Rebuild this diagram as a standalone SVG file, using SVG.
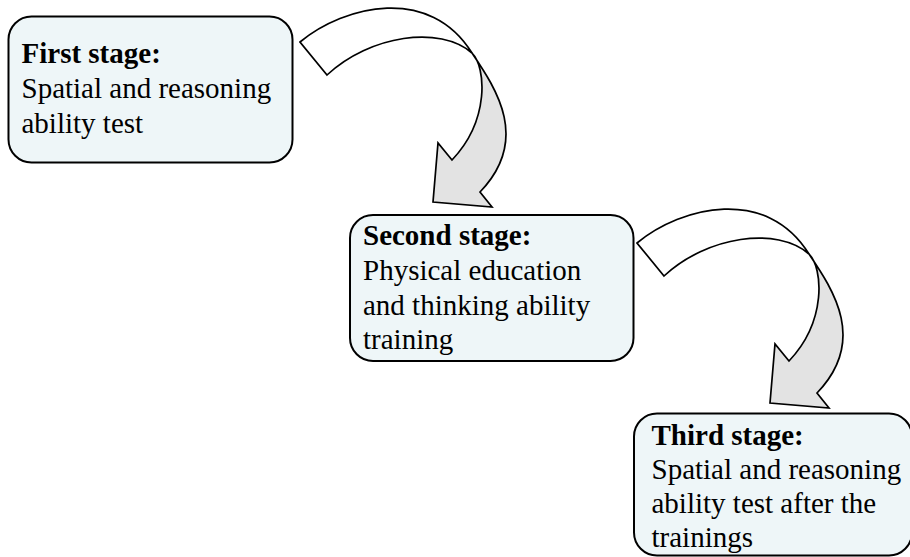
<svg xmlns="http://www.w3.org/2000/svg" width="910" height="557" viewBox="0 0 910 557">
<style>
.box{fill:#eef6f8;stroke:#000;stroke-width:2}
.t{font-family:"Liberation Serif","Times New Roman",serif;font-size:29px;fill:#000}
.b{font-weight:bold}
.back{fill:#ffffff;stroke:#000;stroke-width:1.7;stroke-linejoin:miter}
.front{fill:#e3e3e3;stroke:#000;stroke-width:1.7;stroke-linejoin:miter}
</style>
<defs>
<g id="curvedArrow">
<path class="back" d="M300,42 C345,5 430,-15 472,53 C440,25 370,35 327,75 Z"/>
<path class="front" d="M472,53 C497,90 530,140 480,192 L492,207 L433,202 L438,143 L452,160 C490,120 486,67 472,53 Z"/>
</g>
</defs>
<g id="connectors">
<use href="#curvedArrow"/>
<use href="#curvedArrow" transform="translate(337,201)"/>
</g>
<g id="node1">
<rect class="box" x="8.5" y="16.5" width="284" height="146" rx="23"/>
<text class="t b" x="21.5" y="63">First stage:</text>
<text class="t" x="21.5" y="98">Spatial and reasoning</text>
<text class="t" x="21.5" y="133">ability test</text>
</g>
<g id="node2">
<rect class="box" x="350" y="215" width="283.5" height="146" rx="23"/>
<text class="t b" x="363" y="245">Second stage:</text>
<text class="t" x="363" y="280">Physical education</text>
<text class="t" x="363" y="315">and thinking ability</text>
<text class="t" x="363" y="349">training</text>
</g>
<g id="node3">
<rect class="box" x="634" y="413.5" width="278" height="142" rx="23"/>
<text class="t b" x="651.5" y="445">Third stage:</text>
<text class="t" x="651.5" y="479">Spatial and reasoning</text>
<text class="t" x="651.5" y="513">ability test after the</text>
<text class="t" x="651.5" y="547">trainings</text>
</g>
</svg>
